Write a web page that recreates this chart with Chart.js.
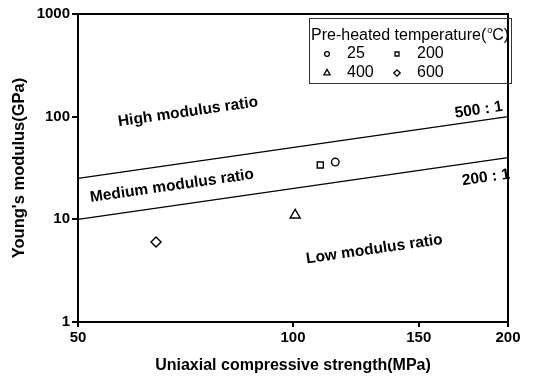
<!DOCTYPE html>
<html>
<head>
<meta charset="utf-8">
<script src="https://cdn.jsdelivr.net/npm/chart.js@4"></script>
<style>
  html, body { margin: 0; padding: 0; background: #fff; }
  #wrap { width: 542px; height: 378px; }
</style>
</head>
<body>
<div id="wrap"><canvas id="chart" width="542" height="378"></canvas></div>
<script>
// values
const temperatures = ['25', '200', '400', '600'];
const strength = [114.6, 109.2, 100.7, 64.3];   // MPa
const modulus = [36.1, 33.8, 11.0, 6.0];        // GPa
const markers = ['circle', 'rect', 'triangle', 'rectRot'];
const markerSizes = [3.8, 4.3, 5.8, 5];

const ratios = [500, 200];
const ratioRange = [50, 200];

const xTicks = [50, 100, 150, 200];
const yTicks = [1, 10, 100, 1000];

const zoneLabels = [
  { text: 'High modulus ratio', x: 71.3, y: 111 },
  { text: 'Medium modulus ratio', x: 67.7, y: 21.1 },
  { text: 'Low modulus ratio', x: 130, y: 5.1 },
  { text: '500 : 1', x: 182, y: 116 },
  { text: '200 : 1', x: 186.3, y: 25.5 }
];

const schrift = 'Liberation Sans, Arial, sans-serif';

const datensaetze = temperatures.map((t, i) => ({
  type: 'scatter',
  label: t,
  data: [{ x: strength[i], y: modulus[i] }],
  pointStyle: markers[i],
  pointRadius: markerSizes[i],
  pointBackgroundColor: '#fff',
  pointBorderColor: '#000',
  pointBorderWidth: 1.4
}));

ratios.forEach(r => {
  datensaetze.push({
    type: 'line',
    label: r + ' : 1',
    data: ratioRange.map(x => ({ x: x, y: x * r / 1000 })),
    borderColor: '#000',
    borderWidth: 1.2,
    pointRadius: 0,
    fill: false
  });
});

// frame, rotated zone labels and the legend box
const beschriftung = {
  id: 'beschriftung',
  afterDatasetsDraw(chart) {
    const ctx = chart.ctx;
    const a = chart.chartArea;
    const xs = chart.scales.x, ys = chart.scales.y;
    ctx.save();
    ctx.strokeStyle = '#000';
    ctx.lineWidth = 2;
    ctx.strokeRect(a.left, a.top, a.right - a.left, a.bottom - a.top);

    const p0x = xs.getPixelForValue(ratioRange[0]), p1x = xs.getPixelForValue(ratioRange[1]);
    const p0y = ys.getPixelForValue(ratioRange[0] * 0.5), p1y = ys.getPixelForValue(ratioRange[1] * 0.5);
    const winkel = Math.atan2(p1y - p0y, p1x - p0x);

    ctx.fillStyle = '#000';
    ctx.font = 'bold 15.5px ' + schrift;
    ctx.textAlign = 'center';
    ctx.textBaseline = 'middle';
    zoneLabels.forEach(z => {
      ctx.save();
      ctx.translate(xs.getPixelForValue(z.x), ys.getPixelForValue(z.y));
      ctx.rotate(winkel);
      ctx.fillText(z.text, 0, 0);
      ctx.restore();
    });

    // legend
    ctx.lineWidth = 1;
    ctx.strokeStyle = '#333';
    ctx.strokeRect(309.5, 18.5, 202, 65);
    ctx.font = '16px ' + schrift;
    ctx.textAlign = 'left';
    ctx.fillText('Pre-heated temperature(', 311, 36);
    const w = ctx.measureText('Pre-heated temperature(').width;
    ctx.font = '9px ' + schrift;
    ctx.fillText('o', 311 + w + 1, 31);
    ctx.font = '16px ' + schrift;
    ctx.fillText('C)', 311 + w + 6, 36);
    const pos = [[327, 54], [397, 54], [327, 73], [397, 73]];
    const legGroesse = [2.4, 2.8, 3.6, 3.2];
    temperatures.forEach((t, i) => {
      ctx.fillStyle = '#fff';
      ctx.strokeStyle = '#000';
      ctx.lineWidth = 1.3;
      Chart.helpers.drawPoint(ctx, { pointStyle: markers[i], radius: legGroesse[i], borderWidth: 1.3 }, pos[i][0], pos[i][1]);
      ctx.fillStyle = '#000';
      ctx.fillText(t, pos[i][0] + 20, pos[i][1]);
    });
    ctx.restore();
  }
};

const achsenFarbe = '#000';

new Chart(document.getElementById('chart').getContext('2d'), {
  data: { datasets: datensaetze },
  options: {
    responsive: false,
    animation: false,
    layout: { padding: { top: 14, right: 34, left: 0, bottom: 0 } },
    plugins: { legend: { display: false }, tooltip: { enabled: false } },
    scales: {
      x: {
        type: 'logarithmic',
        min: 50,
        max: 200,
        afterBuildTicks: s => { s.ticks = xTicks.map(v => ({ value: v })); },
        afterFit: s => { s.height = 56; },
        ticks: {
          color: '#000',
          font: { family: schrift, weight: 'bold', size: 15 },
          padding: 2,
          maxRotation: 0,
          autoSkip: false,
          callback: v => String(v)
        },
        grid: { drawOnChartArea: false, color: achsenFarbe, tickLength: 5, lineWidth: 2 },
        border: { color: achsenFarbe, width: 2 },
        title: {
          display: true,
          text: 'Uniaxial compressive strength(MPa)',
          color: '#000',
          font: { family: schrift, weight: 'bold', size: 16 },
          padding: { top: 0, bottom: 3 }
        }
      },
      y: {
        type: 'logarithmic',
        min: 1,
        max: 1000,
        afterBuildTicks: s => { s.ticks = yTicks.map(v => ({ value: v })); },
        afterFit: s => { s.width = 78; },
        ticks: {
          color: '#000',
          font: { family: schrift, weight: 'bold', size: 15 },
          padding: 2,
          autoSkip: false,
          callback: v => String(v)
        },
        grid: { drawOnChartArea: false, color: achsenFarbe, tickLength: 6, lineWidth: 2 },
        border: { color: achsenFarbe, width: 2 },
        title: {
          display: true,
          text: "Young's modulus(GPa)",
          color: '#000',
          font: { family: schrift, weight: 'bold', size: 16.5 },
          padding: { top: 10, bottom: 0 }
        }
      }
    }
  },
  plugins: [beschriftung]
});
</script>
</body>
</html>
